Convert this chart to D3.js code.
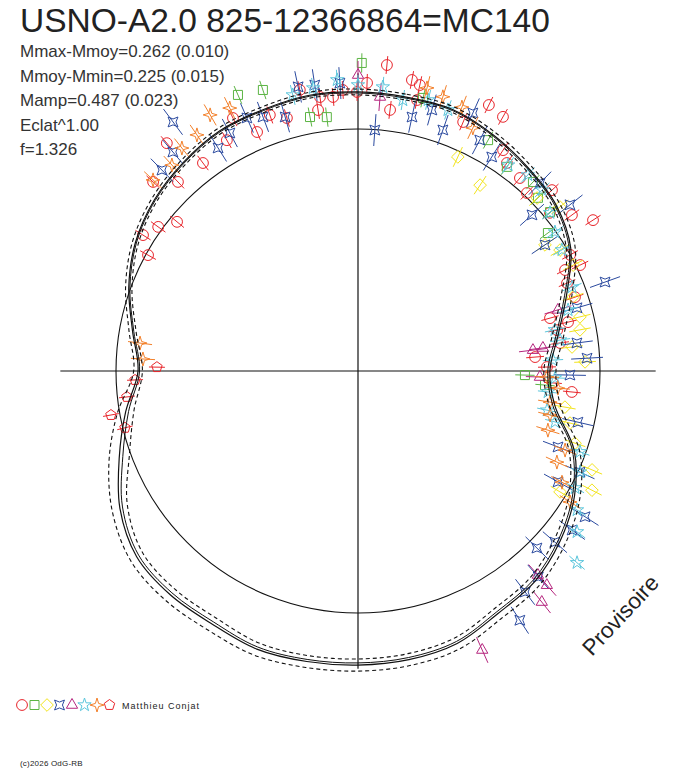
<!DOCTYPE html>
<html>
<head>
<meta charset="utf-8">
<script src="https://cdn.jsdelivr.net/npm/d3@7"></script>
<style>
  body { margin: 0; background: #fff; }
  svg text { font-family: "Liberation Sans", Arial, sans-serif; fill: #222; }
</style>
</head>
<body>
<div id="root"></div>
<script>
// phase angle in degrees (0 = top, clockwise), flux relative to mean (1 = reference circle)
const curvePhase = [0, 10, 20, 30, 40, 50, 60, 70, 80, 90, 100, 110, 120, 130, 140, 150, 160, 170,
  180, 190, 200, 210, 220, 230, 240, 250, 260, 270, 280, 290, 300, 310, 320, 330, 340, 350];
const curveFlux = [1.153, 1.149, 1.149, 1.124, 1.095, 1.068, 1.015, 0.917, 0.839, 0.793, 0.826, 0.950,
  1.033, 1.091, 1.136, 1.157, 1.198, 1.211, 1.215, 1.219, 1.223, 1.207, 1.207, 1.194, 1.136, 1.050,
  0.975, 0.909, 0.946, 1.008, 1.062, 1.099, 1.124, 1.145, 1.149, 1.157];
const curveSigma = [0.012, 0.012, 0.012, 0.013, 0.014, 0.016, 0.020, 0.025, 0.025, 0.025, 0.025, 0.025,
  0.025, 0.025, 0.025, 0.025, 0.025, 0.025, 0.025, 0.025, 0.027, 0.030, 0.030, 0.030, 0.035, 0.045,
  0.035, 0.018, 0.015, 0.014, 0.013, 0.012, 0.012, 0.012, 0.012, 0.012];

// observations [phase deg, flux] per observer / symbol
const obsCircle = [[320.0,1.229],[323.3,1.072],[333.7,1.166],[330.4,1.097],[337.1,1.072],[341.0,1.119],
  [344.3,1.086],[351.3,1.091],[348.3,1.186],[352.1,1.143],[354.8,1.137],[356.9,1.163],[316.4,1.079],
  [312.7,1.152],[305.8,1.018],[309.5,0.969],[302.3,1.051],[298.9,0.991],[359.8,1.153],[1.8,1.191],
  [5.4,1.270],[7.0,1.087],[10.5,1.223],[12.2,1.209],[12.3,1.146],[22.9,1.117],[26.2,1.225],[29.7,1.209],
  [33.3,1.092],[40.0,1.041],[43.5,1.014],[47.0,1.096],[53.9,1.094],[57.3,1.154],[50.5,1.028],[61.3,0.999],
  [35.6,1.057],[64.5,1.017],[64.0,0.952],[67.2,0.937],[71.2,0.947],[74.6,0.823],[76.9,0.891],[78.4,0.840],
  [82.1,0.843],[85.5,0.734],[88.8,0.781],[95.6,0.888],[93.5,0.807]];
const obsSquare = [[336.5,1.244],[341.3,1.226],[349.3,1.068],[353.0,1.057],[0.7,1.273],[13.4,1.160],
  [29.4,1.095],[36.1,1.044],[42.8,1.064],[46.1,1.032],[50.4,1.030],[54.0,0.970],[91.4,0.690],[94.3,0.775]];
const obsDiamond = [[25.0,0.976],[33.3,0.919],[46.0,1.029],[50.9,1.075],[56.0,0.932],[59.1,0.973],
  [63.8,0.991],[71.0,0.940],[76.3,0.944],[79.5,0.933],[83.6,0.890],[87.7,0.939],[99.9,0.868],[103.8,0.902],
  [108.4,0.945],[112.9,1.050],[117.0,1.085],[120.9,0.973]];
const obsCross = [[323.4,1.282],[319.8,1.185],[327.9,1.088],[336.3,1.142],[339.5,1.121],[344.0,1.092],
  [348.1,1.200],[351.4,1.195],[356.4,1.192],[315.7,1.160],[331.7,1.117],[4.0,0.998],[12.0,1.073],
  [19.4,1.056],[15.8,1.121],[24.0,1.167],[27.8,1.079],[32.0,1.043],[48.1,0.966],[51.9,1.113],[44.1,1.081],
  [56.0,0.932],[70.2,1.085],[86.8,0.948],[82.7,0.912],[73.9,0.942],[91.1,0.876],[103.1,0.933],[110.8,0.884],
  [114.5,1.008],[119.0,0.945],[122.7,1.115],[126.6,1.102],[131.0,1.078],[134.7,1.040],[138.8,1.131],
  [142.9,1.145],[147.0,1.228]];
const obsTriangle = [[0,1.223],[4.6,1.136],[82.9,0.770],[73.0,0.864],[91.9,0.752],[83.2,0.728],
  [138.6,1.124],[138.6,1.180],[141.5,1.220],[156.0,1.262]];
const obsStar = [[346.7,1.172],[351.0,1.184],[355.9,1.206],[0,1.182],[5.0,1.178],[9.4,1.135],[14.5,1.157],
  [19.0,1.141],[36.1,1.053],[40.9,1.072],[45.5,1.067],[50.5,1.028],[54.8,0.996],[59.3,0.980],[68.6,0.950],
  [73.8,0.904],[78.2,0.831],[81.3,0.845],[86.8,0.807],[92.0,0.815],[96.3,0.790],[101.7,0.798],[104.5,0.841],
  [110.0,0.976],[114.5,1.008],[118.3,1.019],[122.4,1.072],[126.3,1.123],[131.2,1.203]];
const obsStar4 = [[330.0,1.222],[334.0,1.209],[325.7,1.181],[321.7,1.174],[317.9,1.147],[313.0,1.158],
  [17.2,1.186],[21.5,1.172],[13.7,1.204],[25.3,1.111],[91.8,0.781],[99.2,0.804],[94.9,0.829],[102.9,0.814],
  [107.3,0.822],[110.9,0.916],[114.6,0.904],[118.6,0.960],[121.7,1.030],[277.3,0.908],[273.2,0.890]];
const obsPentagon = [[271.1,0.831],[267.7,0.922],[263.6,0.961],[259.9,1.037],[256.3,0.991]];

// typical error per series (flux)
const seriesNames = ['circle', 'square', 'diamond', 'cross', 'triangle', 'star', 'star4', 'pentagon'];
const seriesSigma = [0.037, 0.040, 0.045, 0.066, 0.058, 0.042, 0.050, 0.033];

const stats = ['Mmax-Mmoy=0.262 (0.010)', 'Mmoy-Mmin=0.225 (0.015)', 'Mamp=0.487 (0.023)', 'Eclat^1.00', 'f=1.326'];
const title = 'USNO-A2.0 825-12366864=MC140';

//-----------------------------------------------------------------------
const width = 688, height = 768;
const cx = 358, cy = 371;
const axisMax = 1.23;

const svg = d3.select('#root').append('svg')
  .attr('width', width).attr('height', height);

const rScale = d3.scaleLinear().domain([0, 1]).range([0, 242]);
const aScale = d3.scaleLinear().domain([0, 360]).range([0, 2 * Math.PI]);

// custom symbols
const symStar4 = (rot, inner) => ({
  draw(ctx, size) {
    const R = Math.sqrt(size), r = R * inner;
    for (let i = 0; i < 8; i++) {
      const a = rot + i * Math.PI / 4, rad = i % 2 ? r : R;
      const x = rad * Math.sin(a), y = -rad * Math.cos(a);
      if (i) ctx.lineTo(x, y); else ctx.moveTo(x, y);
    }
    ctx.closePath();
  }
});
const symPentagon = {
  draw(ctx, size) {
    const R = Math.sqrt(size);
    for (let i = 0; i < 5; i++) {
      const a = i * 2 * Math.PI / 5, x = R * Math.sin(a), y = -R * Math.cos(a);
      if (i) ctx.lineTo(x, y); else ctx.moveTo(x, y);
    }
    ctx.closePath();
  }
};
const symDiamond = {
  draw(ctx, size) {
    const R = Math.sqrt(size);
    ctx.moveTo(0, -R); ctx.lineTo(R, 0); ctx.lineTo(0, R); ctx.lineTo(-R, 0); ctx.closePath();
  }
};

const series = [
  { data: obsCircle,   type: d3.symbolCircle,   size: 92, color: '#e8252b' },
  { data: obsSquare,   type: d3.symbolSquare,   size: 81, color: '#5bb443' },
  { data: obsDiamond,  type: symDiamond,        size: 40, color: '#f2e41c' },
  { data: obsCross,    type: symStar4(Math.PI / 4, 0.42), size: 49, color: '#2b4a9f' },
  { data: obsTriangle, type: d3.symbolTriangle, size: 55, color: '#b5257e' },
  { data: obsStar,     type: d3.symbolStar,     size: 55, color: '#5cc6dc' },
  { data: obsStar4,    type: symStar4(0, 0.32), size: 49, color: '#f3802a' },
  { data: obsPentagon, type: symPentagon,       size: 30, color: '#e8252b' }
];
series.forEach((s, i) => { s.sigma = seriesSigma[i]; s.name = seriesNames[i]; });

const g = svg.append('g').attr('transform', `translate(${cx},${cy})`);

// axes
g.append('line')
  .attr('x1', -rScale(axisMax)).attr('x2', rScale(axisMax)).attr('y1', 0).attr('y2', 0)
  .attr('stroke', '#111').attr('stroke-width', 1.2);
g.append('line')
  .attr('y1', -rScale(axisMax)).attr('y2', rScale(axisMax)).attr('x1', 0).attr('x2', 0)
  .attr('stroke', '#111').attr('stroke-width', 1.2);

// mean circle
g.append('circle').attr('r', rScale(1))
  .attr('fill', 'none').attr('stroke', '#111').attr('stroke-width', 1.1);

// observations
series.forEach(s => {
  const sg = g.append('g').attr('class', 'obs-' + s.name)
    .attr('stroke', s.color).attr('fill', 'none').attr('stroke-width', 1);
  sg.selectAll('line').data(s.data).enter().append('line')
    .each(function (d) {
      const a = aScale(d[0]);
      const p0 = d3.pointRadial(a, rScale(d[1] - s.sigma));
      const p1 = d3.pointRadial(a, rScale(d[1] + s.sigma));
      d3.select(this).attr('x1', p0[0]).attr('y1', p0[1]).attr('x2', p1[0]).attr('y2', p1[1]);
    });
  sg.selectAll('path').data(s.data).enter().append('path')
    .attr('d', d3.symbol().type(s.type).size(s.size))
    .attr('transform', d => {
      const p = d3.pointRadial(aScale(d[0]), rScale(d[1]));
      return `translate(${p[0]},${p[1]})`;
    });
});

// fitted light curve with envelopes
const curveData = curvePhase.map((p, i) => ({ p, f: curveFlux[i], e: curveSigma[i] }));
const radial = acc => d3.lineRadial()
  .angle(d => aScale(d.p))
  .radius(d => rScale(acc(d)))
  .curve(d3.curveCatmullRomClosed);

g.append('path').attr('d', radial(d => d.f + d.e)(curveData))
  .attr('fill', 'none').attr('stroke', '#111').attr('stroke-width', 1.1).attr('stroke-dasharray', '4,3');
g.append('path').attr('d', radial(d => d.f - d.e)(curveData))
  .attr('fill', 'none').attr('stroke', '#111').attr('stroke-width', 1.1).attr('stroke-dasharray', '4,3');
g.append('path').attr('d', radial(d => d.f - d.e * 0.35)(curveData))
  .attr('fill', 'none').attr('stroke', '#111').attr('stroke-width', 1);
g.append('path').attr('d', radial(d => d.f)(curveData))
  .attr('fill', 'none').attr('stroke', '#111').attr('stroke-width', 1.2);

// texts
svg.append('text').attr('x', 20).attr('y', 32)
  .style('font-size', '33.5px').text(title);

svg.selectAll('.stat').data(stats).enter().append('text')
  .attr('class', 'stat')
  .attr('x', 20).attr('y', (d, i) => 57 + i * 24.6)
  .style('font-size', '17px').style('fill', '#333')
  .text(d => d);

svg.append('text')
  .attr('transform', 'translate(592,657) rotate(-47)')
  .style('font-size', '22.5px').text('Provisoire');

// legend
const legend = svg.append('g').attr('transform', 'translate(22,705)');
series.forEach((s, i) => {
  legend.append('path')
    .attr('d', d3.symbol().type(s.type).size(s.size))
    .attr('transform', `translate(${i * 12.5},0)`)
    .attr('fill', 'none').attr('stroke', s.color).attr('stroke-width', 1);
});
legend.append('text').attr('x', 100).attr('y', 4)
  .style('font-size', '9px').style('letter-spacing', '1px').text('Matthieu Conjat');

svg.append('text').attr('x', 20).attr('y', 766)
  .style('font-size', '8px').style('letter-spacing', '0.2px').text('(c)2026 OdG-RB');
</script>
</body>
</html>
